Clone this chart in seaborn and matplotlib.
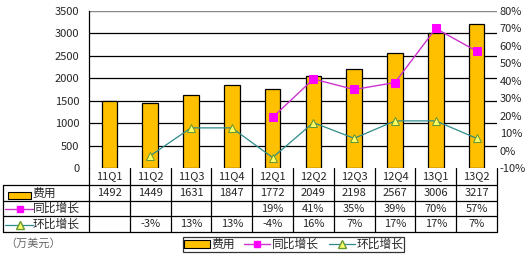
import numpy as np
import pandas as pd
import matplotlib
matplotlib.use("Agg")
import matplotlib.pyplot as plt
import seaborn as sns
from matplotlib.lines import Line2D
from matplotlib.patches import Rectangle
from matplotlib.transforms import blended_transform_factory
from matplotlib.ticker import FuncFormatter, MultipleLocator

quarters = ["11Q1", "11Q2", "11Q3", "11Q4", "12Q1", "12Q2", "12Q3", "12Q4", "13Q1", "13Q2"]
expense = [1492, 1449, 1631, 1847, 1772, 2049, 2198, 2567, 3006, 3217]
yoy = [np.nan, np.nan, np.nan, np.nan, 19, 41, 35, 39, 70, 57]
qoq = [np.nan, -3, 13, 13, -4, 16, 7, 17, 17, 7]
series_names = ["费用", "同比增长", "环比增长"]
unit_label = "（万美元）"

BAR = "#FFC000"
MAG_LINE = "#CC33CC"
MAG_MARK = "#FF00FF"
TEAL = "#2E8B8B"
TRI_FILL = "#FFFF66"
TRI_EDGE = "#669933"

sns.set_style("white")
plt.rcParams["font.family"] = ["Noto Sans CJK SC", "DejaVu Sans"]
plt.rcParams["axes.unicode_minus"] = False

W, H = 530, 257
fig = plt.figure(figsize=(W / 100, H / 100), dpi=100)
L, R, T, B = 89, 497, 11, 168
ax = fig.add_axes([L / W, 1 - B / H, (R - L) / W, (B - T) / H])

df = pd.DataFrame({"q": quarters, "expense": expense, "yoy": yoy, "qoq": qoq, "i": np.arange(len(quarters))})

NUMFS = 8
CJKFS = 8.5

sns.barplot(data=df, x="i", y="expense", color=BAR, edgecolor="black", linewidth=0.9,
            width=0.38, saturation=1, ax=ax)
ax.set_xlim(-0.5, len(quarters) - 0.5)
ax.set_ylim(0, 3500)
ax.yaxis.set_major_locator(MultipleLocator(500))
ax.set_xlabel("")
ax.set_ylabel("")
ax.set_xticks([])
ax.tick_params(axis="y", length=0, pad=7, labelsize=NUMFS)
ax.grid(False)
for v in range(500, 3500, 500):
    ax.axhline(v, color="black", lw=0.9, zorder=0)
ax.axhline(3500, color="#888888", lw=1.0, zorder=0)
for s in ["top", "right", "bottom"]:
    ax.spines[s].set_visible(False)
ax.spines["left"].set_color("black")
ax.spines["left"].set_linewidth(0.9)

ax2 = ax.twinx()
sns.lineplot(data=df, x="i", y="yoy", ax=ax2, color=MAG_LINE, lw=1.0, marker="s",
             markersize=5.5, markerfacecolor=MAG_MARK, markeredgecolor=MAG_MARK, zorder=5)
sns.lineplot(data=df, x="i", y="qoq", ax=ax2, color=TEAL, lw=0.9, marker="^",
             markersize=6, markerfacecolor=TRI_FILL, markeredgecolor=TRI_EDGE, zorder=5)
ax2.set_ylim(-10, 80)
ax2.yaxis.set_major_locator(MultipleLocator(10))
ax2.yaxis.set_major_formatter(FuncFormatter(lambda v, p: f"{int(round(v))}%"))
ax2.tick_params(axis="y", length=0, pad=2, labelsize=NUMFS)
ax2.set_ylabel("")
ax2.set_xlabel("")
for s in ["top", "right", "bottom", "left"]:
    ax2.spines[s].set_visible(False)
ax2.set_xlim(-0.5, len(quarters) - 0.5)

# ---- data table below plot ----
tr = blended_transform_factory(ax.transData, fig.transFigure)
ftr = fig.transFigure
def fy(py):
    return 1 - py / H
def fx(px):
    return px / W

n = len(quarters)
rows_y = [168, 185, 201, 216, 232]
lc = "black"
lw = 0.9
for k in range(n + 1):
    fig.add_artist(Line2D([k - 0.5, k - 0.5], [fy(168), fy(232)], transform=tr, color=lc, lw=lw))
fig.add_artist(Line2D([fx(3), fx(3)], [fy(185), fy(232)], transform=ftr, color=lc, lw=lw))
for yy in rows_y[1:]:
    fig.add_artist(Line2D([fx(3), fx(R)], [fy(yy), fy(yy)], transform=ftr, color=lc, lw=lw))

for i, q in enumerate(quarters):
    fig.text(i, fy(176.5), q, transform=tr, ha="center", va="center", fontsize=NUMFS)
    fig.text(i, fy(193), f"{expense[i]}", transform=tr, ha="center", va="center", fontsize=NUMFS)
    if not np.isnan(yoy[i]):
        fig.text(i, fy(208.5), f"{int(yoy[i])}%", transform=tr, ha="center", va="center", fontsize=NUMFS)
    if not np.isnan(qoq[i]):
        fig.text(i, fy(224), f"{int(qoq[i])}%", transform=tr, ha="center", va="center", fontsize=NUMFS)

# row headers
fig.add_artist(Rectangle((fx(8), fy(199)), fx(31) - fx(8), fy(192) - fy(199), transform=ftr,
                         facecolor=BAR, edgecolor="black", lw=0.8))
fig.text(fx(32), fy(193), series_names[0], transform=ftr, ha="left", va="center", fontsize=CJKFS)
fig.add_artist(Line2D([fx(5), fx(33)], [fy(209), fy(209)], transform=ftr, color=MAG_LINE, lw=1.0))
fig.add_artist(Line2D([fx(20)], [fy(209)], transform=ftr, marker="s", markersize=5,
                      markerfacecolor=MAG_MARK, markeredgecolor=MAG_MARK, lw=0))
fig.text(fx(33), fy(208.5), series_names[1], transform=ftr, ha="left", va="center", fontsize=CJKFS)
fig.add_artist(Line2D([fx(5), fx(33)], [fy(225), fy(225)], transform=ftr, color=TEAL, lw=0.9))
fig.add_artist(Line2D([fx(20)], [fy(225)], transform=ftr, marker="^", markersize=6,
                      markerfacecolor=TRI_FILL, markeredgecolor=TRI_EDGE, lw=0))
fig.text(fx(33), fy(224), series_names[2], transform=ftr, ha="left", va="center", fontsize=CJKFS)

fig.text(fx(5), fy(243), unit_label, transform=ftr, ha="left", va="center", fontsize=8, color="#666666")

# legend
handles = [
    Rectangle((0, 0), 1, 1, facecolor=BAR, edgecolor="black", lw=0.8),
    Line2D([], [], color=MAG_LINE, lw=1.0, marker="s", markersize=5,
           markerfacecolor=MAG_MARK, markeredgecolor=MAG_MARK),
    Line2D([], [], color=TEAL, lw=0.9, marker="^", markersize=6,
           markerfacecolor=TRI_FILL, markeredgecolor=TRI_EDGE),
]
leg = fig.legend(handles, series_names, loc="center", bbox_to_anchor=(fx(293.5), fy(244.5)),
                 ncol=3, frameon=True, fancybox=False, edgecolor="black", fontsize=CJKFS,
                 handlelength=2.2, handleheight=0.7, columnspacing=0.8, handletextpad=0.15,
                 borderpad=0.1, borderaxespad=0)
leg.get_frame().set_linewidth(0.9)

fig.savefig("out.png", dpi=100)
